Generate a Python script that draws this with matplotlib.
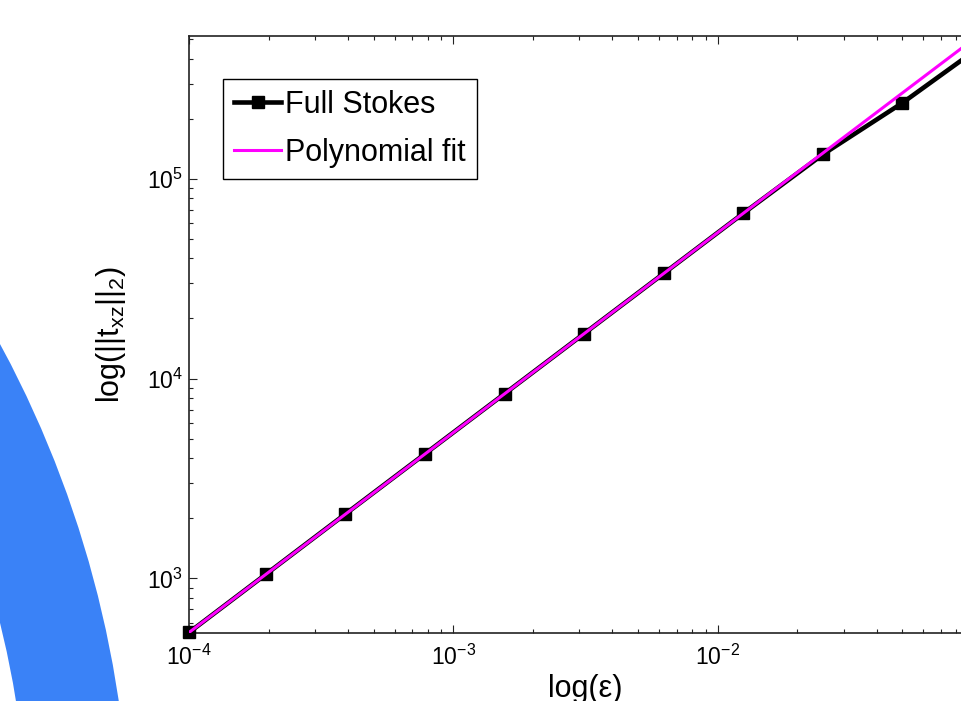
import numpy as np
import matplotlib
matplotlib.use("Agg")
import matplotlib.pyplot as plt
from matplotlib.patches import Wedge

plt.rcParams['font.family'] = ['Liberation Sans', 'DejaVu Sans']
plt.rcParams['mathtext.default'] = 'regular'

# ---- data ----
epsilon = [1.0e-4, 1.953e-4, 3.906e-4, 7.8125e-4, 1.5625e-3, 3.125e-3,
           6.25e-3, 1.25e-2, 2.5e-2, 5.0e-2, 1.0e-1]
full_stokes = [536, 1048, 2100, 4200, 8400, 16800,
               33600, 67200, 132500, 240000, 465000]
# polynomial fit in log10-log10 space: [slope, intercept]
fit_coeffs = [1.0007, 6.732]
fit_range = [1.0e-4, 1.0e-1]
series_labels = ["Full Stokes", "Polynomial fit"]
xlim = [1.0e-4, 1.0e-1]
ylim = [531, 5.206e5]

W, H, DPI = 961, 701, 100
fig = plt.figure(figsize=(W / DPI, H / DPI), dpi=DPI, facecolor='white')

# decorative blue arc band on the left
cx, cy = -952.7, 858.9
arc = Wedge((cx / DPI, (H - cy) / DPI), 1083.0 / DPI, 0, 60,
            width=101.5 / DPI, transform=fig.dpi_scale_trans,
            facecolor='#3A82F7', edgecolor='none')
fig.add_artist(arc)

left, right, top, bottom = 189, 982, 35.7, 633.3
ax = fig.add_axes([left / W, (H - bottom) / H, (right - left) / W, (bottom - top) / H])
ax.set_xscale('log')
ax.set_yscale('log')

ax.plot(epsilon, full_stokes, color='black', lw=3.3, marker='s', ms=9,
        mfc='black', mec='black', label=series_labels[0], clip_on=False, zorder=3)
fx = np.array(fit_range)
fy = 10 ** np.polyval(fit_coeffs, np.log10(fx))
ax.plot(fx, fy, color='#FF00FF', lw=2.2, label=series_labels[1], zorder=4)

ax.set_xlim(xlim)
ax.set_ylim(ylim)

for s in ax.spines.values():
    s.set_linewidth(1.2)
    s.set_color('#222222')

ax.tick_params(which='both', direction='in', top=True, right=True,
               width=0.8, color='#222222', labelsize=16.5)
ax.tick_params(which='major', length=5.5)
ax.tick_params(which='minor', length=3.2)
ax.tick_params(axis='x', pad=8.5)
ax.tick_params(axis='y', pad=4.3)

ax.set_xlabel('log(ε)', fontsize=22)
ax.xaxis.set_label_coords(0.5, -0.068)
ax.set_ylabel('log(||t$_{xz}$||$_{2}$)', fontsize=22)
ax.yaxis.set_label_coords(-0.077, 0.5)

leg = ax.legend(loc='upper left', bbox_to_anchor=(0.0429, 0.928),
                fontsize=22, frameon=True, fancybox=False, framealpha=1,
                edgecolor='black', borderaxespad=0, borderpad=0.36,
                handlelength=1.55, handletextpad=0.12, labelspacing=0.6)
leg.get_frame().set_linewidth(1.0)

fig.savefig('out.png', dpi=DPI, facecolor='white')
